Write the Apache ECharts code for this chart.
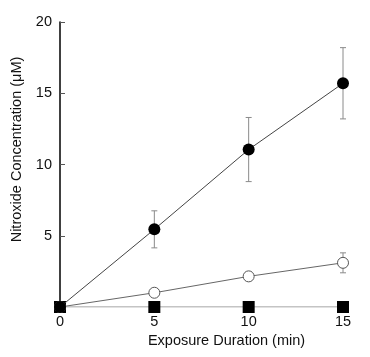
<!DOCTYPE html>
<html>
<head>
<meta charset="utf-8">
<script src="https://cdn.jsdelivr.net/npm/echarts@6/dist/echarts.min.js"></script>
<style>
  html, body { margin: 0; padding: 0; background: #fff; }
  #chart { width: 370px; height: 357px; }
</style>
</head>
<body>
<div id="chart"></div>
<script>
// exposure time (min)
const times = [0, 5, 10, 15];
// filled circles
const filledMean = [0, 5.45, 11.05, 15.7];
const filledErr = [0, 1.3, 2.25, 2.5];
// open circles
const openMean = [0, 1.0, 2.15, 3.1];
const openErr = [0, 0.2, 0.3, 0.7];
// filled squares
const squareMean = [0, 0, 0, 0];

const font = "'Liberation Sans', Arial, sans-serif";

const chart = echarts.init(document.getElementById("chart"));

// error bars drawn as a custom series (vertical line + caps)
const errorSeries = (means, errs) => ({
  type: "custom",
  z: 1,
  silent: true,
  data: times.map((t, i) => [t, means[i] - errs[i], means[i] + errs[i]]),
  renderItem: function (params, api) {
    const lo = api.coord([api.value(0), api.value(1)]);
    const hi = api.coord([api.value(0), api.value(2)]);
    const w = 3;
    const style = { stroke: "#8a8a8a", lineWidth: 1 };
    return {
      type: "group",
      children: [
        { type: "line", shape: { x1: lo[0], y1: lo[1], x2: hi[0], y2: hi[1] }, style: style },
        { type: "line", shape: { x1: hi[0] - w, y1: hi[1], x2: hi[0] + w, y2: hi[1] }, style: style },
        { type: "line", shape: { x1: lo[0] - w, y1: lo[1], x2: lo[0] + w, y2: lo[1] }, style: style },
      ],
    };
  },
});

const option = {
  animation: false,
  grid: { left: 60, right: 27, top: 22, bottom: 50 },
  xAxis: {
    type: "value",
    min: 0,
    max: 15,
    interval: 5,
    name: "Exposure Duration (min)",
    nameLocation: "middle",
    nameGap: 24,
    nameTextStyle: { color: "#111", fontSize: 14.5, fontFamily: font, padding: [0, 0, 0, 50] },
    axisLine: { show: false },
    axisTick: { show: false },
    splitLine: { show: false },
    axisLabel: { color: "#111", fontSize: 14.5, fontFamily: font, margin: 7 },
  },
  yAxis: {
    type: "value",
    min: 0,
    max: 20,
    interval: 5,
    name: "Nitroxide Concentration (\u03bcM)",
    nameLocation: "middle",
    nameGap: 35,
    nameTextStyle: { color: "#111", fontSize: 14.5, fontFamily: font, padding: [0, 0, 0, 30] },
    axisLine: { show: true, lineStyle: { color: "#000", width: 1.5 } },
    axisTick: { show: true, inside: true, length: 5, lineStyle: { color: "#555" } },
    splitLine: { show: false },
    axisLabel: {
      color: "#111",
      fontSize: 14.5,
      fontFamily: font,
      margin: 8,
      formatter: (v) => (v === 0 ? "" : String(v)),
    },
  },
  series: [
    errorSeries(filledMean, filledErr),
    errorSeries(openMean, openErr),
    {
      type: "line",
      z: 2,
      data: times.map((t, i) => [t, squareMean[i]]),
      symbol: "rect",
      symbolSize: 12,
      itemStyle: { color: "#000" },
      lineStyle: { color: "#888", width: 1 },
    },
    {
      type: "line",
      z: 3,
      data: times.map((t, i) => [t, openMean[i]]),
      symbol: "circle",
      symbolSize: 11,
      showAllSymbol: true,
      itemStyle: { color: "#fff", borderColor: "#555", borderWidth: 1 },
      lineStyle: { color: "#666", width: 1 },
    },
    {
      type: "line",
      z: 4,
      data: times.map((t, i) => [t, filledMean[i]]),
      symbol: "circle",
      symbolSize: 12,
      itemStyle: { color: "#000" },
      lineStyle: { color: "#444", width: 1 },
    },
  ],
};

chart.setOption(option);
</script>
</body>
</html>
